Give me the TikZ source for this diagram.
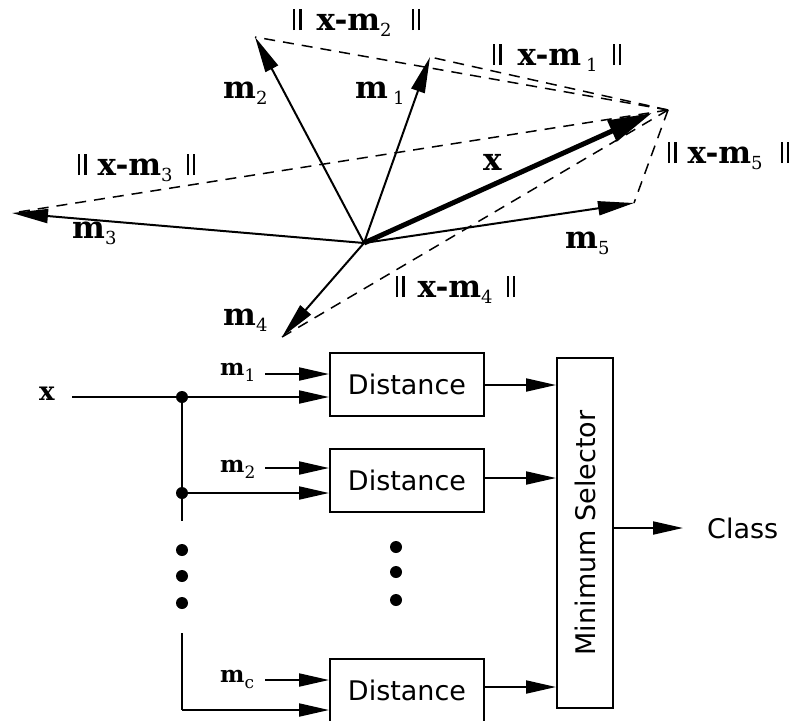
\documentclass[tikz,border=0pt]{standalone}
\usepackage{fontspec}
\newfontfamily\boxfont{DejaVu Sans}
\newfontfamily\labfont{DejaVu Serif}
\usetikzlibrary{arrows.meta}
% lowered, light subscript used in the vector labels
\newcommand{\vsub}[2][18]{\raisebox{-6pt}{\fontsize{#1}{#1}\selectfont\mdseries #2}}
% the double bar of a norm
\newcommand{\nbar}{\rule{2.2pt}{21pt}\hspace{4pt}\rule{2.2pt}{21pt}}
\begin{document}
\begin{tikzpicture}[x=1pt,y=-1pt,
  vec/.style={line width=2pt,-{Triangle[length=36pt,width=14pt]}},
  bigvec/.style={line width=5pt,-{Triangle[length=44pt,width=22pt]}},
  gap/.style={line width=1.5pt,dash pattern=on 11pt off 8pt},
  vlab/.style={font=\labfont\fontsize{31}{31}\selectfont\bfseries,inner sep=0pt,anchor=base west},
  blab/.style={font=\labfont\fontsize{23}{23}\selectfont\bfseries,inner sep=0pt,anchor=base west},
  sflab/.style={font=\boxfont\fontsize{27}{27}\selectfont,inner sep=0pt},
  distbox/.style={draw,line width=2pt,font=\boxfont\fontsize{27}{27}\selectfont,
    minimum width=154pt,minimum height=63pt,inner sep=0pt},
  flow/.style={line width=2pt,-{Triangle[length=30pt,width=13pt]}},
  wire/.style={line width=2pt},
  dot/.style={circle,fill,inner sep=0pt,minimum size=12pt}
]
\useasboundingbox (0,0) rectangle (810,720);

% ---------- vector picture ----------
\coordinate (O)  at (364,243);
\coordinate (X)  at (668,110);
\coordinate (tx) at (652,113);
\coordinate (t1) at (430,57);
\coordinate (t2) at (255,37);
\coordinate (t3) at (12,213);
\coordinate (t4) at (282,337);
\coordinate (t5) at (634,203);

\foreach \t in {t1,t2,t3,t4,t5}
  \draw[gap] (X) -- (\t);

\draw[vec] (O) -- (t1);
\draw[vec] (O) -- (t2);
\draw[vec] (O) -- (t3);
\draw[vec] (O) -- (t4);
\draw[vec] (O) -- (t5);
\draw[bigvec] (O) -- (tx);

\node[vlab] (d2) at (293,30) {\nbar\hspace{15pt}x-m\vsub{2}\hspace{20pt}\nbar};
\node[vlab] (d1) at (493,65) {\nbar\hspace{16pt}x-m\hspace{5pt}\vsub{1}\hspace{15pt}\nbar};
\node[vlab] (d3) at (78,175) {\nbar\hspace{11pt}x-m\vsub{3}\hspace{14pt}\nbar};
\node[vlab] (d5) at (668,163) {\nbar\hspace{11pt}x-m\vsub{5}\hspace{18pt}\nbar};
\node[vlab] (d4) at (396,297) {\nbar\hspace{13pt}x-m\vsub{4}\hspace{14pt}\nbar};

\node[vlab] (n1) at (355,98) {m\hspace{5pt}\vsub{1}};
\node[vlab] (n2) at (223,98) {m\vsub{2}};
\node[vlab] (n3) at (72,238) {m\vsub{3}};
\node[vlab] (n4) at (223,325) {m\vsub{4}};
\node[vlab] (n5) at (565,248) {m\vsub{5}};
\node[vlab] (nx) at (483,170) {x};

% ---------- classifier block diagram ----------
\node[distbox] (B1) at (407,384.5) {Distance};
\node[distbox] (B2) at (407,480.5) {Distance};
\node[distbox] (B3) at (407,690.5) {Distance};
\node[draw,line width=2pt,minimum width=56pt,minimum height=350pt,inner sep=0pt]
  (S) at (585,533) {};
\node[sflab,rotate=90] (Stext) at (S.center) {Minimum Selector};

\node[blab,font=\labfont\fontsize{26}{26}\selectfont\bfseries] (xin) at (39,400) {x};
\node[blab] (m1) at (220,375) {m\vsub[17]{1}};
\node[blab] (m2) at (220,472) {m\vsub[17]{2}};
\node[blab] (mc) at (220,682) {m\vsub[17]{c}};

\coordinate (xs) at (72,397);
\coordinate (J1) at (182,397);
\coordinate (J2) at (182,493);
\coordinate (Jend) at (182,521);
\coordinate (Jtop) at (182,633);
\coordinate (J3) at (182,710);
\coordinate (a1) at (265,374);
\coordinate (a2) at (265,468);
\coordinate (a3) at (265,680);

\draw[wire] (xs) -- (J1) -- (Jend);
\draw[wire] (Jtop) -- (J3);
\draw[flow] (J1) -- (B1.west |- J1);
\draw[flow] (J2) -- (B2.west |- J2);
\draw[flow] (J3) -- (B3.west |- J3);
\draw[flow] (a1) -- (B1.west |- a1);
\draw[flow] (a2) -- (B2.west |- a2);
\draw[flow] (a3) -- (B3.west |- a3);

\node[dot] (j1) at (J1) {};
\node[dot] (j2) at (J2) {};
\foreach \yy [count=\i] in {550,576,603}
  \node[dot] (lv\i) at (182,\yy) {};
\foreach \yy [count=\i] in {547,572,600}
  \node[dot] (rv\i) at (396,\yy) {};

\draw[flow] (B1.east |- 0,385) -- (S.west |- 0,385);
\draw[flow] (B2.east |- 0,478) -- (S.west |- 0,478);
\draw[flow] (B3.east |- 0,687) -- (S.west |- 0,687);

\node[sflab,anchor=west] (cls) at (707,528) {Class};
\draw[flow] (S.east |- cls) -- (683,528);
\end{tikzpicture}
\end{document}
